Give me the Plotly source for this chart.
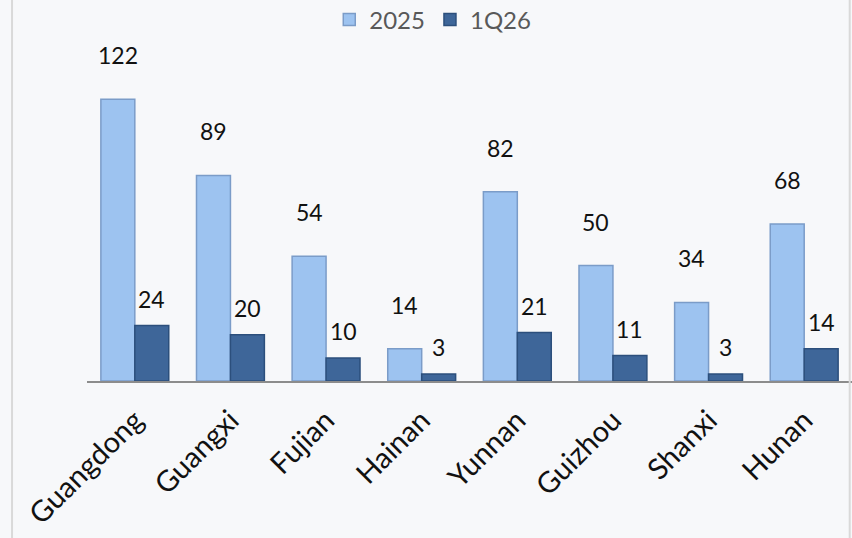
import plotly.graph_objects as go

provinces = ["Guangdong", "Guangxi", "Fujian", "Hainan", "Yunnan", "Guizhou", "Shanxi", "Hunan"]
vals_2025 = [122, 89, 54, 14, 82, 50, 34, 68]
vals_1q26 = [24, 20, 10, 3, 21, 11, 3, 14]

FONT = "Lato, 'Open Sans', sans-serif"

fig = go.Figure()

# light blue series (2025)
fig.add_trace(go.Bar(
    x=provinces, y=vals_2025, name="2025",
    marker=dict(color="#9dc3f0", line=dict(color="#7b9cc8", width=1.5)),
))

# dark blue series (1Q26)
fig.add_trace(go.Bar(
    x=provinces, y=vals_1q26, name="1Q26",
    marker=dict(color="#3e6699", line=dict(color="#2c4f7c", width=1.5)),
))

# data labels float well above the bar tops, like the original 3D chart
for i, p in enumerate(provinces):
    fig.add_annotation(x=p, y=vals_2025[i], text=str(vals_2025[i]), xshift=-17,
                       yshift=44, showarrow=False, font=dict(size=23, color="#111111"))
    fig.add_annotation(x=p, y=vals_1q26[i], text=str(vals_1q26[i]), xshift=17,
                       yshift=27, showarrow=False, font=dict(size=23, color="#111111"))

# thin light-gray frame lines at the left and right edges
fig.add_shape(type="line", xref="paper", yref="paper", x0=-0.098, x1=-0.098, y0=-0.6, y1=1.3,
              line=dict(color="#d9d9d9", width=2))
fig.add_shape(type="line", xref="paper", yref="paper", x0=0.997, x1=0.997, y0=-0.6, y1=1.3,
              line=dict(color="#d9d9d9", width=2))

fig.update_layout(
    width=852, height=538,
    margin=dict(l=87, r=0, t=60, b=157, autoexpand=False),
    paper_bgcolor="#f7f8fa",
    plot_bgcolor="#f7f8fa",
    font=dict(family=FONT, color="#111111"),
    barmode="group",
    bargap=0.29,
    bargroupgap=0,
    showlegend=True,
    legend=dict(orientation="h", x=0.452, xanchor="center", xref="paper",
                y=0.963, yanchor="middle", yref="container",
                font=dict(size=24, color="#595959"), bgcolor="rgba(0,0,0,0)",
                itemwidth=30, traceorder="normal"),
    xaxis=dict(showgrid=False, showline=True, linecolor="#8c8c8c", linewidth=1.5,
               ticks="", tickangle=-45, ticklabelstandoff=9, automargin=False,
               tickfont=dict(size=29, color="#111111")),
    yaxis=dict(visible=False, range=[0, 139]),
)

# drop the browser's default body margin so the figure fills the window
fig.write_html("out.html", config={"displayModeBar": False},
               post_script="document.body.style.margin='0';")
